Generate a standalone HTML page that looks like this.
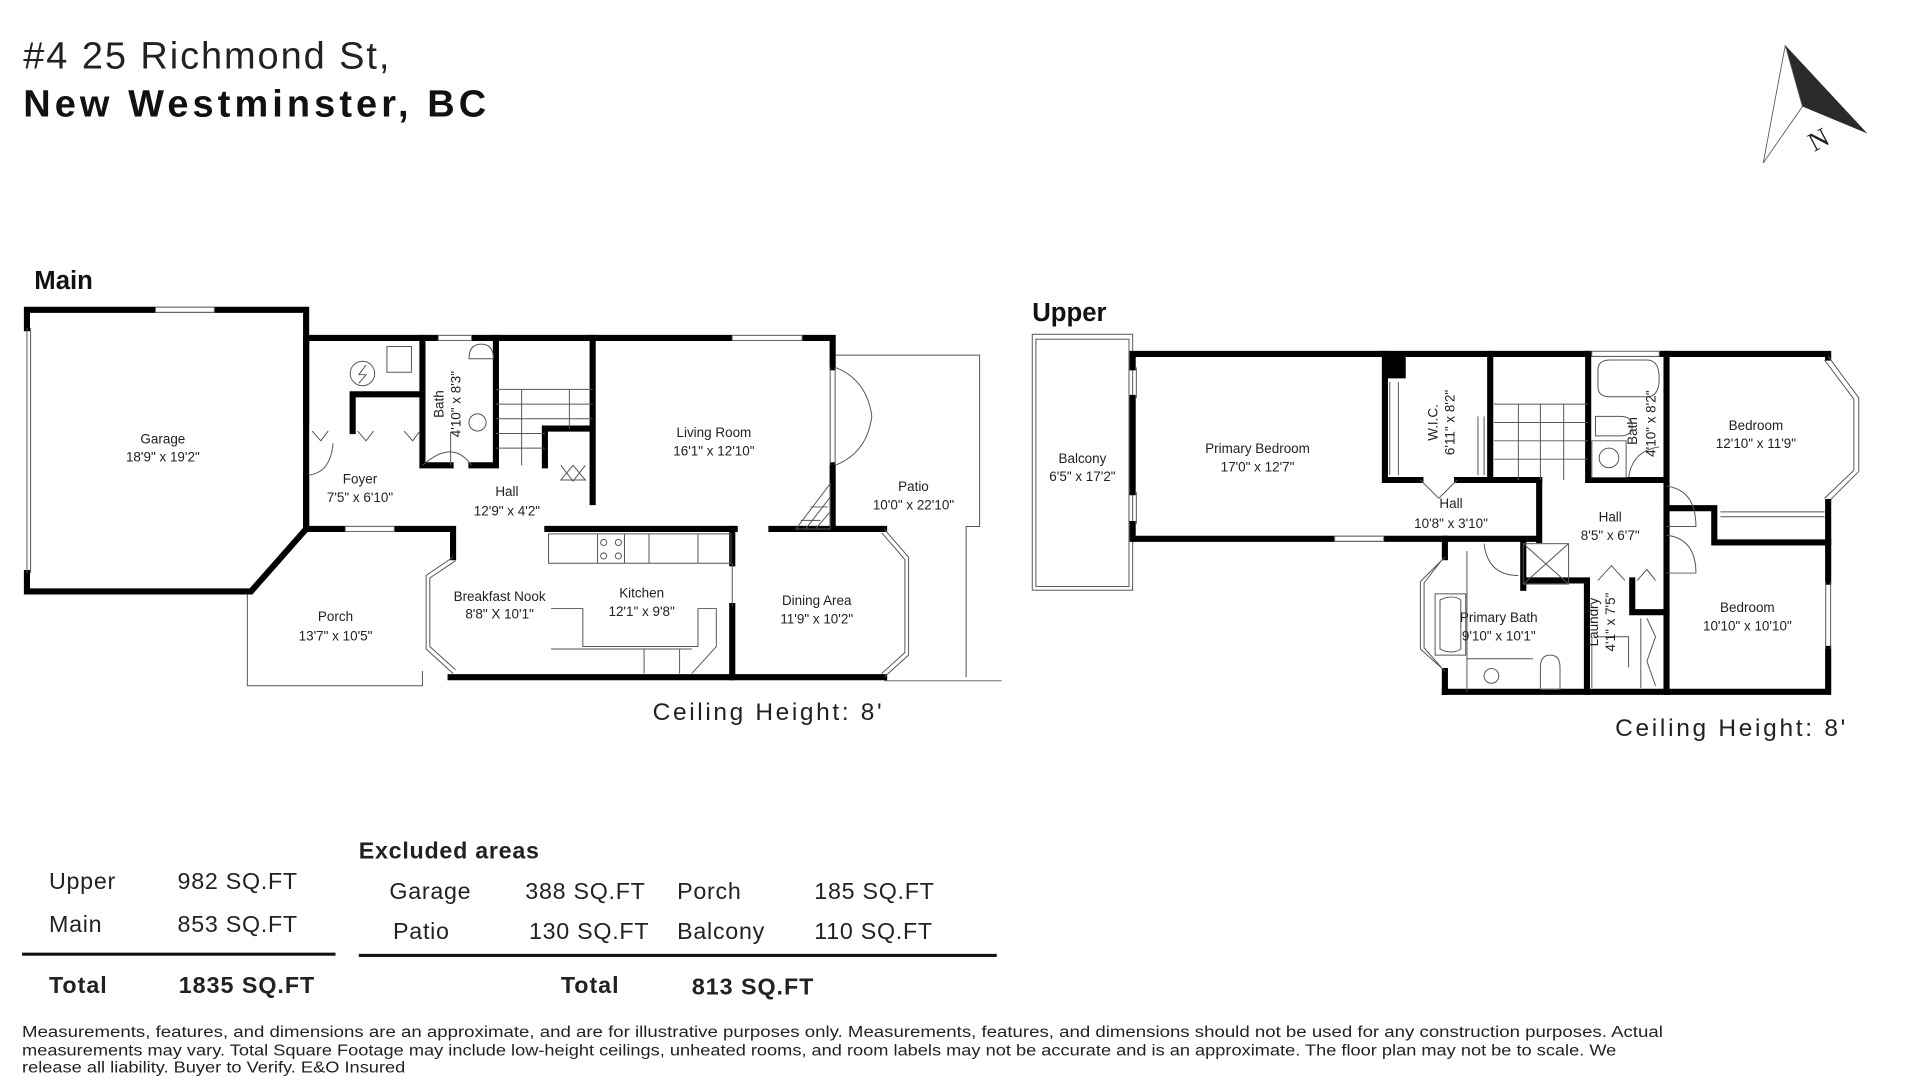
<!DOCTYPE html>
<html><head><meta charset="utf-8"><style>
html,body{margin:0;padding:0;background:#fff;}
svg{display:block;}
text{font-family:"Liberation Sans",sans-serif;fill:#222;}
.r{font-size:11px;text-anchor:middle;}
.w{stroke:#000;stroke-width:5;fill:none;stroke-linecap:square;}
.t{stroke:#555;stroke-width:0.8;fill:none;}
.win{fill:#fff;stroke:#777;stroke-width:0.8;}
</style></head><body>
<svg width="1920" height="1080" viewBox="0 0 1568 882" xmlns="http://www.w3.org/2000/svg">
<!-- Titles -->
<text x="19" y="56" textLength="299" lengthAdjust="spacing" style="font-size:31px">#4 25 Richmond St,</text>
<text x="19" y="95" textLength="378" lengthAdjust="spacing" style="font-size:31px;font-weight:bold;fill:#111">New Westminster, BC</text>
<text x="28" y="236" style="font-size:21px;font-weight:bold;fill:#111">Main</text>
<text x="843" y="262" style="font-size:21px;font-weight:bold;fill:#111">Upper</text>

<!-- Compass -->
<polygon points="1458,37 1472,87 1525,109" fill="#2a2a2a"/>
<polygon points="1458,37 1472,87 1440,133" fill="#fff" stroke="#555" stroke-width="0.7"/>
<text x="1476" y="122" transform="rotate(-28 1483 112)" style="font-family:'Liberation Serif',serif;font-size:22px">N</text>

<!-- ============ MAIN ============ -->
<path class="t" d="M202,483 V560 H345 V548"/>
<path class="t" d="M682,290 H800 V430 H789 V553 M722,556 H818"/>
<path class="w" d="M22,268 V253 H250 V432 L205,483 H22 V468"/>
<rect class="win" x="127" y="251" width="48" height="4"/>
<path class="t" d="M22,268 V468 M25,268 V468"/>
<path class="w" d="M250,345 V276 H680 V300 M680,380 V432 H722"/>
<path class="w" d="M250,390 V432 H370 V455"/>
<rect class="win" x="282" y="430" width="40" height="4"/>
<rect class="win" x="358" y="274" width="27" height="4"/>
<rect class="win" x="598" y="274" width="57" height="4"/>
<path class="t" d="M678,300 V380 M682,300 V380"/>
<path d="M682,300 q26,10 30,40 M682,380 q26,-10 30,-40" class="t"/>
<path class="t" d="M370,455 L348,470 V530 L370,550 M372,458 L351,472 V528 L372,547"/>
<path class="w" d="M368,553 H722"/>
<path class="t" d="M722,553 L742,535 V455 L722,432 M720,550 L739,533 V457 L720,435"/>
<path class="w" d="M447,432 H600 M630,432 H680"/>
<path class="w" d="M598,432 V460 M598,495 V553"/>
<path class="t" d="M598,460 V495"/>
<path class="t" d="M448,436 H597 V460 H448 Z M488,436 V460 M510,436 V460 M530,436 V460 M570,436 V460"/>
<circle cx="493" cy="443" r="2.5" class="t"/><circle cx="505" cy="443" r="2.5" class="t"/>
<circle cx="493" cy="454" r="2.5" class="t"/><circle cx="505" cy="454" r="2.5" class="t"/>
<path class="t" d="M450,497 H476 V528 H570 V497 H585 V528 L565,550 M450,530 H565 M526,530 H555 V550 M526,530 V550"/>
<path class="t" d="M650,432 L678,395 V432 Z M658,432 L678,406 M666,432 L678,418 M654,425 L670,425 M662,414 L676,414"/>
<path class="w" d="M345,276 V380 H368 M385,380 H405 V276"/>
<path class="t" d="M345,380 Q370,358 385,380 M368,353 V380"/>
<circle cx="390" cy="345" r="7" class="t"/>
<path class="t" d="M383,293 q0,-12 10,-12 q10,0 10,12 Z"/>
<path class="w" d="M288,352 V322 H345"/>
<circle cx="296" cy="305" r="10" class="t"/>
<path class="t" d="M299,298 L293,306 L299,306 L293,313"/>
<rect x="316" y="283" width="20" height="21" class="t"/>
<path class="t" d="M255,352 L262,360 L268,352 M292,352 L299,360 L305,352 M330,352 L337,360 L343,352"/>
<path class="t" d="M252,388 Q270,386 272,362"/>
<path class="w" d="M484,276 V410 M445,350 V380 M445,350 H484"/>
<path class="t" d="M405,318 H445 M405,330 H445 M405,342 H445 M405,354 H445 M405,366 H445 M445,330 H484 M445,318 H484 M445,342 H484 M426,318 V380 M465,318 V350 M468,380 L458,392 L478,392 Z"/>
<path class="t" d="M458,380 L468,393 L478,380"/>

<g class="r">
<text x="133" y="362">Garage</text><text x="133" y="377">18'9" x 19'2"</text>
<text x="294" y="395">Foyer</text><text x="294" y="410">7'5" x 6'10"</text>
<text x="414" y="405">Hall</text><text x="414" y="421">12'9" x 4'2"</text>
<text x="583" y="357">Living Room</text><text x="583" y="372">16'1" x 12'10"</text>
<text x="746" y="401">Patio</text><text x="746" y="416">10'0" x 22'10"</text>
<text x="408" y="491">Breakfast Nook</text><text x="408" y="505">8'8" X 10'1"</text>
<text x="524" y="488">Kitchen</text><text x="524" y="503">12'1" x 9'8"</text>
<text x="667" y="494">Dining Area</text><text x="667" y="509">11'9" x 10'2"</text>
<text x="274" y="507">Porch</text><text x="274" y="523">13'7" x 10'5"</text>
<text transform="translate(362,330) rotate(-90)">Bath</text>
<text transform="translate(376,330) rotate(-90)">4'10" x 8'3"</text>
</g>
<text x="533" y="588" textLength="187" lengthAdjust="spacing" style="font-size:20px">Ceiling Height: 8'</text>

<!-- ============ UPPER ============ -->
<rect x="843" y="273" width="82" height="209" class="t"/>
<rect x="846" y="277" width="76" height="202" class="t"/>
<path class="w" d="M925,300 V289 H1493 M1493,289 L1493,292"/>
<rect class="win" x="1300" y="287" width="55" height="4"/>
<path class="w" d="M925,325 V402 M925,428 V440 H1255"/>
<path class="t" d="M922,300 V325 M928,300 V325 M922,402 V428 M928,402 V428"/>
<rect class="win" x="1090" y="438" width="40" height="4"/>
<path class="t" d="M1493,291 L1518,325 V385 L1493,410 M1490,294 L1514,326 V384 L1490,407"/>
<path class="w" d="M1493,410 V475 M1493,530 V565 H1180"/>
<path class="t" d="M1491,475 V530 M1495,475 V530"/>
<rect x="1130" y="289" width="18" height="20" fill="#000"/>
<path class="w" d="M1131,289 V392 H1160 M1190,392 H1257 M1217,289 V392 M1297,289 V392 H1361 M1361,289 V430"/>
<path class="w" d="M1257,392 V441"/>
<path class="t" d="M1135,312 V388 M1142,312 V388 M1207,340 V388 M1212,340 V388 M1160,392 L1175,407 L1190,392"/>
<path class="t" d="M1220,330 H1297 M1220,345 H1297 M1220,360 H1297 M1220,375 H1297 M1240,330 V392 M1258,330 V392 M1277,330 V392"/>
<path class="t" d="M1305,302 q0,-8 10,-8 h30 q10,0 10,15 q0,15 -10,15 h-30 q-10,0 -10,-8 Z M1303,340 h20 q10,0 10,8 q0,8 -10,8 h-20 Z M1300,360 h28 v30 h-28 Z"/>
<circle cx="1314" cy="374" r="8" class="t"/>
<path class="t" d="M1330,390 Q1333,368 1355,365"/>
<path class="w" d="M1361,430 V565 M1361,415 H1400 V443 H1493"/>
<path class="t" d="M1405,418 H1490 M1405,422 H1490"/>
<path class="t" d="M1361,397 Q1385,400 1385,430 H1361 M1361,437 Q1385,440 1385,468 H1361"/>
<path class="w" d="M1180,440 V455 M1180,548 V565"/>
<path class="t" d="M1180,455 L1160,475 V530 L1180,548 M1177,458 L1163,476 V529 L1177,545"/>
<path class="w" d="M1244,441 V480 M1244,474 H1296 M1333,474 V500 H1361 M1296,474 V565 M1333,474 V480"/>
<rect x="1244" y="444" width="37" height="33" class="t"/>
<path class="t" d="M1244,444 L1281,477 M1281,444 L1244,477"/>
<path class="t" d="M1172,485 h25 v50 h-25 Z M1176,490 q10,-5 17,0 v40 q-8,5 -17,0 Z M1198,538 H1252 M1198,450 V565"/>
<circle cx="1218" cy="552" r="6" class="t"/>
<path class="t" d="M1258,545 q0,-10 8,-10 q8,0 8,10 v18 h-16 Z M1212,444 Q1215,470 1240,470"/>
<path class="t" d="M1300,520 V562 M1303,520 H1330 V545 M1340,505 V562 M1345,505 L1352,520 L1345,540 L1352,560"/>
<path class="t" d="M1305,474 L1316,462 L1327,474 M1337,474 L1345,465 L1352,474"/>
<g class="r">
<text x="884" y="378">Balcony</text><text x="884" y="393">6'5" x 17'2"</text>
<text x="1027" y="370">Primary Bedroom</text><text x="1027" y="385">17'0" x 12'7"</text>
<text transform="translate(1174,345) rotate(-90)">W.I.C.</text>
<text transform="translate(1188,345) rotate(-90)">6'11" x 8'2"</text>
<text x="1185" y="415">Hall</text><text x="1185" y="431">10'8" x 3'10"</text>
<text x="1315" y="426">Hall</text><text x="1315" y="441">8'5" x 6'7"</text>
<text x="1434" y="351">Bedroom</text><text x="1434" y="366">12'10" x 11'9"</text>
<text transform="translate(1337,352) rotate(-90)">Bath</text>
<text transform="translate(1352,346) rotate(-90)">4'10" x 8'2"</text>
<text x="1224" y="508">Primary Bath</text><text x="1224" y="523">9'10" x 10'1"</text>
<text transform="translate(1305,508) rotate(-90)">Laundry</text>
<text transform="translate(1319,508) rotate(-90)">4'1" x 7'5"</text>
<text x="1427" y="500">Bedroom</text><text x="1427" y="515">10'10" x 10'10"</text>
</g>
<text x="1319" y="601" textLength="188" lengthAdjust="spacing" style="font-size:20px">Ceiling Height: 8'</text>

<!-- ============ TABLE ============ -->
<g style="font-size:19px;letter-spacing:0.6px">
<text x="40" y="726">Upper</text><text x="145" y="726">982 SQ.FT</text>
<text x="40" y="761">Main</text><text x="145" y="761">853 SQ.FT</text>
<text x="318" y="734">Garage</text><text x="429" y="734">388 SQ.FT</text>
<text x="553" y="734">Porch</text><text x="665" y="734">185 SQ.FT</text>
<text x="321" y="767">Patio</text><text x="432" y="767">130 SQ.FT</text>
<text x="553" y="767">Balcony</text><text x="665" y="767">110 SQ.FT</text>
</g>
<text x="293" y="701" style="font-size:19px;font-weight:bold;letter-spacing:0.6px">Excluded areas</text>
<rect x="18" y="778" width="256" height="2.5" fill="#111"/>
<rect x="293" y="779" width="521" height="2.5" fill="#111"/>
<g style="font-size:19px;font-weight:bold;fill:#111;letter-spacing:0.8px">
<text x="40" y="811">Total</text><text x="146" y="811">1835 SQ.FT</text>
<text x="458" y="811">Total</text><text x="565" y="812">813 SQ.FT</text>
</g>
<g style="font-size:12.5px">
<text x="18" y="847" textLength="1340" lengthAdjust="spacingAndGlyphs">Measurements, features, and dimensions are an approximate, and are for illustrative purposes only. Measurements, features, and dimensions should not be used for any construction purposes. Actual</text>
<text x="18" y="862" textLength="1302" lengthAdjust="spacingAndGlyphs">measurements may vary. Total Square Footage may include low-height ceilings, unheated rooms, and room labels may not be accurate and is an approximate. The floor plan may not be to scale. We</text>
<text x="18" y="876" textLength="313" lengthAdjust="spacingAndGlyphs">release all liability. Buyer to Verify. E&amp;O Insured</text>
</g>
</svg>
</body></html>
